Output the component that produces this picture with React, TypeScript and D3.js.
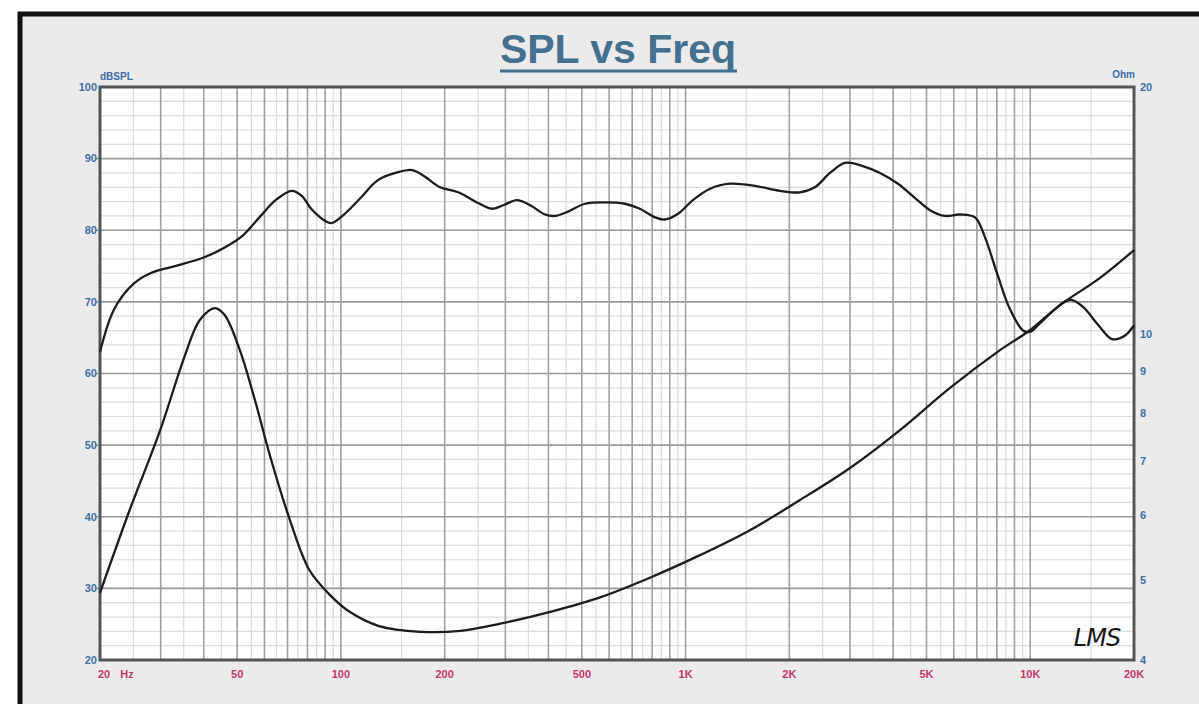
import React from "react";
import * as d3 from "d3";

const FREQ_TICKS = [20, 50, 100, 200, 500, 1000, 2000, 5000, 10000, 20000];
const FREQ_LABELS = ["20", "50", "100", "200", "500", "1K", "2K", "5K", "10K", "20K"];
const DB_TICKS = [20, 30, 40, 50, 60, 70, 80, 90, 100];
const OHM_TICKS = [4, 5, 6, 7, 8, 9, 10, 20];

const SPL_FREQ = [20, 22, 25, 28, 33, 40, 46, 52, 58, 65, 72, 77, 82, 90, 94, 101, 114, 128, 144, 161, 175, 194, 219, 250, 274, 299, 324, 354, 391, 418, 456, 511, 584, 667, 737, 815, 871, 951, 1050, 1177, 1346, 1590, 1879, 2148, 2372, 2624, 2900, 3250, 3664, 4132, 4632, 5118, 5658, 6254, 6914, 7392, 8010, 8730, 9528, 9980, 10668, 11800, 13046, 14224, 15726, 17260, 18700, 20000];
const SPL_DB = [63, 69, 72.5, 74, 75, 76.2, 77.6, 79.3, 81.8, 84.3, 85.5, 84.8, 83, 81.3, 81, 82, 84.5, 87, 88, 88.4, 87.5, 86, 85.3, 83.8, 83, 83.6, 84.2, 83.5, 82.2, 82, 82.6, 83.7, 83.9, 83.7, 83, 81.8, 81.5, 82.3, 84.2, 85.8, 86.5, 86.2, 85.5, 85.3, 86, 88, 89.4, 89, 88, 86.5, 84.5, 82.8, 82, 82.2, 81.8, 79, 74, 69, 66, 65.8, 67, 69, 70.3, 69.3, 66.8, 64.8, 65.2, 66.7];

const IMP_FREQ = [20, 24.4, 29.9, 35.3, 39, 43.1, 46, 50.9, 56.3, 62.2, 71.1, 81, 93, 106, 129, 170, 222, 290, 405, 565, 788, 1101, 1538, 2148, 3000, 4190, 5850, 8170, 9980, 12200, 15940, 20000];
const IMP_OHM = [4.83, 6.1, 7.63, 9.42, 10.4, 10.75, 10.54, 9.55, 8.3, 7.11, 5.93, 5.15, 4.8, 4.58, 4.4, 4.33, 4.34, 4.43, 4.58, 4.77, 5.04, 5.37, 5.76, 6.27, 6.86, 7.63, 8.59, 9.55, 10.1, 10.84, 11.7, 12.65];

const W = 1199;
const H = 704;
const L = 100, R = 1134, T = 87, B = 660;
const BLUE = "#3c6ea6";
const RED = "#c2386c";
const FONT = "'Liberation Sans', Arial, sans-serif";

export default function App() {
  const x = d3.scaleLog().domain([20, 20000]).range([L, R]);
  const yDb = d3.scaleLinear().domain([20, 100]).range([B, T]);
  const yOhm = d3.scaleLog().domain([4, 20]).range([B, T]);

  const vGrid: { f: number; major: boolean }[] = [];
  [10, 100, 1000, 10000].forEach((base) => {
    for (let k = 1; k < 10; k += 0.5) {
      const f = base * k;
      if (f > 20 && f < 20000) vGrid.push({ f, major: Number.isInteger(k) });
    }
  });
  const hGrid: { d: number; major: boolean }[] = [];
  for (let d = 22; d < 100; d += 2) hGrid.push({ d, major: d % 10 === 0 });

  const curve = d3.curveCatmullRom.alpha(0.5);
  const splLine = d3
    .line<number>()
    .x((_, i) => x(SPL_FREQ[i]))
    .y((v) => yDb(v))
    .curve(curve)(SPL_DB) as string;
  const impLine = d3
    .line<number>()
    .x((_, i) => x(IMP_FREQ[i]))
    .y((v) => yOhm(v))
    .curve(curve)(IMP_OHM) as string;

  return (
    <svg
      width={W}
      height={H}
      style={{ position: "absolute", left: 0, top: 0, background: "#fff" }}
      fontFamily={FONT}
    >
      <rect x={20} y={14} width={1300} height={900} fill="#ebebeb" stroke="#111" strokeWidth={5} />
      <text x={618} y={63} textAnchor="middle" fontSize={41} fontWeight="bold" fill="#44718f">
        SPL vs Freq
      </text>
      <rect x={500} y={69.5} width={237} height={3} fill="#44718f" />

      <rect x={L} y={T} width={R - L} height={B - T} fill="#fff" />
      {hGrid.filter((g) => !g.major).map((g) => (
        <line key={"hm" + g.d} x1={L} x2={R} y1={yDb(g.d)} y2={yDb(g.d)} stroke="#dcdcdc" strokeWidth={1.2} />
      ))}
      {vGrid.filter((g) => !g.major).map((g) => (
        <line key={"vm" + g.f} x1={x(g.f)} x2={x(g.f)} y1={T} y2={B} stroke="#dcdcdc" strokeWidth={1.2} />
      ))}
      {hGrid.filter((g) => g.major).map((g) => (
        <line key={"hM" + g.d} x1={L - 4} x2={R} y1={yDb(g.d)} y2={yDb(g.d)} stroke="#9a9a9a" strokeWidth={1.6} />
      ))}
      {vGrid.filter((g) => g.major).map((g) => (
        <line key={"vM" + g.f} x1={x(g.f)} x2={x(g.f)} y1={T} y2={B} stroke="#a0a0a0" strokeWidth={1.6} />
      ))}
      <rect x={L} y={T} width={R - L} height={B - T} fill="none" stroke="#555" strokeWidth={3} />

      <path d={splLine} fill="none" stroke="#1c1c1c" strokeWidth={2.3} />
      <path d={impLine} fill="none" stroke="#1c1c1c" strokeWidth={2.3} />

      {DB_TICKS.map((d) => (
        <text key={"db" + d} x={L - 3} y={yDb(d)} dy="0.35em" textAnchor="end" fontSize={11} fontWeight="bold" fill={BLUE}>
          {d}
        </text>
      ))}
      <text x={L} y={80} fontSize={10} fontWeight="bold" fill={BLUE}>dBSPL</text>

      {OHM_TICKS.map((o) => (
        <text key={"oh" + o} x={R + 6} y={yOhm(o)} dy="0.35em" textAnchor="start" fontSize={11} fontWeight="bold" fill={BLUE}>
          {o}
        </text>
      ))}
      <text x={R + 1} y={78} textAnchor="end" fontSize={10} fontWeight="bold" fill={BLUE}>Ohm</text>

      {FREQ_TICKS.map((f, i) => (
        <text key={"f" + f} x={x(f) + (i === 0 ? 4 : 0)} y={678} textAnchor="middle" fontSize={11} fontWeight="bold" fill={RED}>
          {FREQ_LABELS[i]}
        </text>
      ))}
      <text x={127} y={678} textAnchor="middle" fontSize={11} fontWeight="bold" fill={RED}>Hz</text>

      <text x={1097} y={646} textAnchor="middle" fontSize={24} fontStyle="italic" fill="#161616" fontFamily="'DejaVu Sans', sans-serif" letterSpacing={-1}>
        LMS
      </text>
    </svg>
  );
}
